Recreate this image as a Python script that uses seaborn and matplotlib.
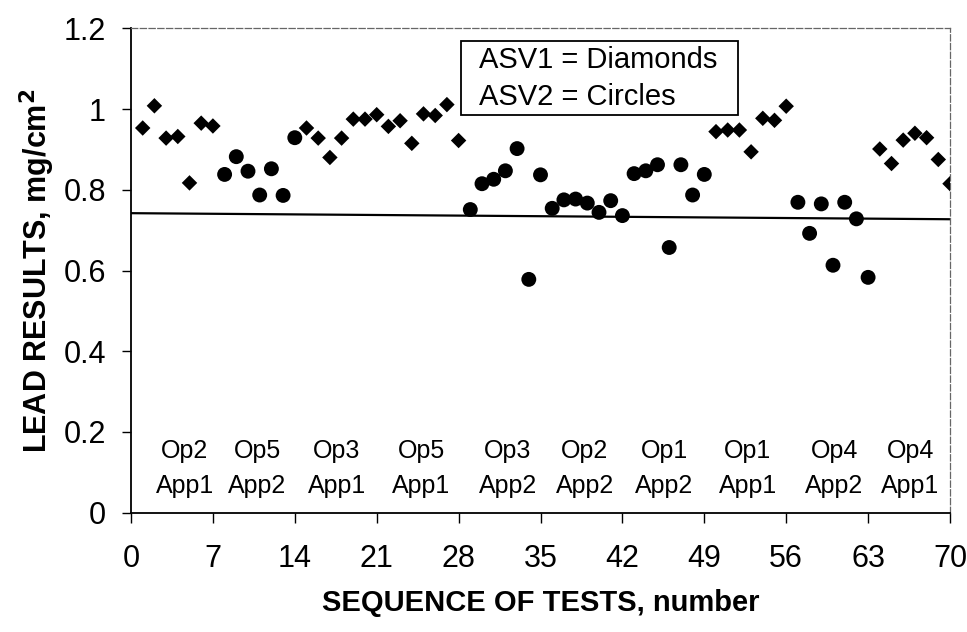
import matplotlib
matplotlib.use("Agg")
import matplotlib.pyplot as plt
from matplotlib import font_manager
from matplotlib.patches import Rectangle
import seaborn as sns
import pandas as pd

# ASV1 (diamonds)
asv1_x = [1, 2, 3, 4, 5, 6, 7,
          15, 16, 17, 18, 19, 20, 21, 22, 23, 24, 25, 26, 27, 28,
          50, 51, 52, 53, 54, 55, 56,
          64, 65, 66, 67, 68, 69, 70]
asv1_y = [0.953, 1.008, 0.928, 0.932, 0.817, 0.965, 0.958,
          0.953, 0.928, 0.880, 0.928, 0.975, 0.975, 0.986, 0.957, 0.971, 0.915, 0.988, 0.984, 1.011, 0.922,
          0.944, 0.948, 0.948, 0.894, 0.977, 0.972, 1.007,
          0.901, 0.865, 0.923, 0.940, 0.929, 0.875, 0.815]

# ASV2 (circles)
asv2_x = [8, 9, 10, 11, 12, 13, 14,
          29, 30, 31, 32, 33, 34, 35, 36, 37, 38, 39, 40, 41, 42,
          43, 44, 45, 46, 47, 48, 49,
          57, 58, 59, 60, 61, 62, 63]
asv2_y = [0.838, 0.882, 0.846, 0.787, 0.852, 0.786, 0.929,
          0.751, 0.815, 0.826, 0.847, 0.902, 0.578, 0.837, 0.754, 0.775, 0.777, 0.767, 0.744, 0.773, 0.736,
          0.840, 0.847, 0.862, 0.657, 0.862, 0.787, 0.838,
          0.769, 0.692, 0.765, 0.613, 0.769, 0.728, 0.583]

# reference line
line_x = [0, 70]
line_y = [0.742, 0.727]

op_labels = ["Op2", "Op5", "Op3", "Op5", "Op3", "Op2", "Op1", "Op1", "Op4", "Op4"]
app_labels = ["App1", "App2", "App1", "App1", "App2", "App2", "App2", "App1", "App2", "App1"]
label_x = [4.6, 10.8, 17.6, 24.8, 32.2, 38.8, 45.6, 52.7, 60.1, 66.6]

x_ticks = list(range(0, 71, 7))
y_ticks = [0, 0.2, 0.4, 0.6, 0.8, 1.0, 1.2]
y_tick_labels = ["0", "0.2", "0.4", "0.6", "0.8", "1", "1.2"]

sns.set_style("white")
names = {f.name for f in font_manager.fontManager.ttflist}
plt.rcParams['font.family'] = ['Liberation Sans', 'DejaVu Sans']
plt.rcParams['text.color'] = 'black'
plt.rcParams['axes.labelcolor'] = 'black'
plt.rcParams['xtick.color'] = 'black'
plt.rcParams['ytick.color'] = 'black'

fig, ax = plt.subplots(figsize=(9.67, 6.32), dpi=100)
fig.subplots_adjust(left=131 / 967, right=950 / 967, bottom=1 - 512.7 / 632, top=1 - 28.3 / 632)

d1 = pd.DataFrame({"x": asv1_x, "y": asv1_y})
d2 = pd.DataFrame({"x": asv2_x, "y": asv2_y})
sns.scatterplot(data=d1, x="x", y="y", marker="D", s=62, color="black", edgecolor="none", ax=ax, zorder=3)
sns.scatterplot(data=d2, x="x", y="y", marker="o", s=115, color="black", edgecolor="none", ax=ax, zorder=3)
ax.plot(line_x, line_y, color="black", lw=1.6, zorder=2)

ax.set_xlim(0, 70)
ax.set_ylim(0, 1.2)
ax.set_xticks(x_ticks)
ax.set_yticks(y_ticks)
ax.set_yticklabels(y_tick_labels)
ax.tick_params(axis="both", direction="out", width=1, labelsize=22, bottom=True, left=True)
ax.tick_params(axis="x", length=7.2, pad=15)
ax.tick_params(axis="y", length=6.5, pad=11.5)

for side in ["left", "bottom"]:
    ax.spines[side].set_color("black")
    ax.spines[side].set_linewidth(1.3)
for side in ["top", "right"]:
    ax.spines[side].set_color("#666666")
    ax.spines[side].set_linewidth(0.9)
    ax.spines[side].set_linestyle((0, (5, 2)))

ax.set_xlabel("SEQUENCE OF TESTS, number", fontsize=21, fontweight="bold", labelpad=11)
ax.set_ylabel("LEAD RESULTS, mg/cm$^\\mathbf{2}$", fontsize=22, fontweight="bold", labelpad=5)

for xp, op, app in zip(label_x, op_labels, app_labels):
    ax.text(xp, 0.136, op, ha="center", va="baseline", fontsize=18)
    ax.text(xp, 0.049, app, ha="center", va="baseline", fontsize=18)

# legend-like note box
ax.add_patch(Rectangle((0.403, 0.82), 0.338, 0.153, transform=ax.transAxes,
                       fc="white", ec="black", lw=1.3, zorder=4))
ax.text(0.425, (512.7 - 68) / 484.4, "ASV1 = Diamonds", transform=ax.transAxes,
        ha="left", va="baseline", fontsize=21, zorder=5)
ax.text(0.425, (512.7 - 105) / 484.4, "ASV2 = Circles", transform=ax.transAxes,
        ha="left", va="baseline", fontsize=21, zorder=5)

fig.savefig("out.png", dpi=100)
